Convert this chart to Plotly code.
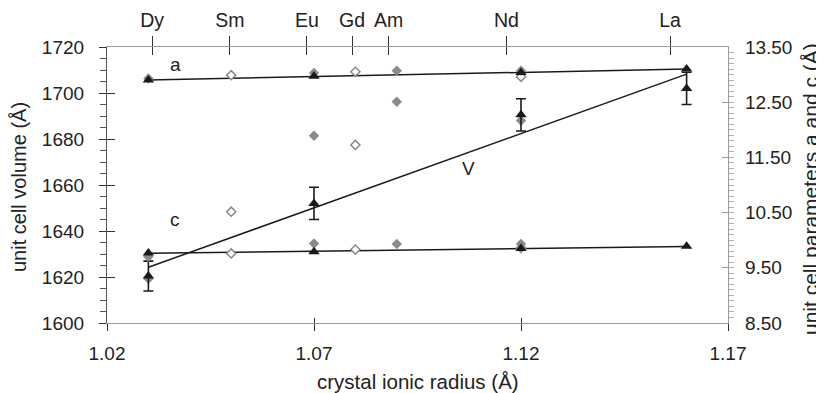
import numpy as np
import plotly.graph_objects as go

# ---------------- data ----------------
elements = ["Dy", "Sm", "Eu", "Gd", "Am", "Nd", "La"]
element_label_pos = [1.0309, 1.0497, 1.0683, 1.0792, 1.0880, 1.1165, 1.1560]

# this work (black triangles)
tri_radius = [1.03, 1.07, 1.12, 1.16]
tri_a = [12.90, 12.97, 13.04, 13.10]
tri_c = [9.77, 9.79, 9.85, 9.89]
tri_V = [1620.4, 1652.0, 1690.5, 1702.0]
tri_V_err = [6.5, 7.0, 7.0, 7.0]

# literature (grey filled diamonds)
fd_radius = [1.03, 1.07, 1.09, 1.12]
fd_a = [12.93, 13.03, 13.07, 13.07]
fd_c = [9.70, 9.94, 9.93, 9.93]
fd_V = [1619.2, 1681.4, 1696.2, 1688.0]

# literature (open diamonds)
od_radius = [1.05, 1.08, 1.12]
od_a = [12.99, 13.05, 12.96]
od_c = [9.76, 9.83, 9.86]
od_V = [1648.4, 1677.4, None]

x_ticks = [1.02, 1.07, 1.12, 1.17]
x_ticktext = ["1.02", "1.07", "1.12", "1.17"]

FONT = "Liberation Sans, Arial, sans-serif"
BLACK = "#1a1a1a"
GREY = "#8a8a8a"
AXGREY = "#9a9a9a"
TXT = "#222"

# page has an 8 px body margin; figure sized to fit the window exactly
W, H = 816, 385
OFF = 8
L, R, T, B = 107 - OFF, 96, 47 - OFF, H - (323 - OFF)
PW = W - L - R
PH = H - T - B

fig = go.Figure()

# linear fits through this work's data
xr = np.array(tri_radius)
xfit = np.array([tri_radius[0], tri_radius[-1]])
for vals, ax in [(tri_a, "y2"), (tri_c, "y2"), (tri_V, "y")]:
    p = np.polyfit(xr, np.array(vals), 1)
    fig.add_trace(go.Scatter(x=xfit, y=np.polyval(p, xfit), mode="lines",
                             line=dict(color=BLACK, width=1.5), yaxis=ax,
                             showlegend=False, hoverinfo="skip"))

# open diamonds
fig.add_trace(go.Scatter(x=od_radius, y=od_V, mode="markers", yaxis="y",
                         marker=dict(symbol="diamond", size=7, color="white",
                                     line=dict(color=GREY, width=1.5)), showlegend=False))
fig.add_trace(go.Scatter(x=od_radius + od_radius, y=od_a + od_c, mode="markers", yaxis="y2",
                         marker=dict(symbol="diamond", size=7, color="white",
                                     line=dict(color=GREY, width=1.5)), showlegend=False))
# filled diamonds
fig.add_trace(go.Scatter(x=fd_radius, y=fd_V, mode="markers", yaxis="y",
                         marker=dict(symbol="diamond", size=8, color=GREY,
                                     line=dict(width=0)), showlegend=False))
fig.add_trace(go.Scatter(x=fd_radius + fd_radius, y=fd_a + fd_c, mode="markers", yaxis="y2",
                         marker=dict(symbol="diamond", size=8, color=GREY,
                                     line=dict(width=0)), showlegend=False))
# triangles
fig.add_trace(go.Scatter(x=tri_radius, y=tri_V, mode="markers", yaxis="y",
                         error_y=dict(type="data", array=tri_V_err, color=BLACK,
                                      thickness=1.6, width=5),
                         marker=dict(symbol="triangle-up", size=10, color=BLACK),
                         showlegend=False))
fig.add_trace(go.Scatter(x=tri_radius + tri_radius, y=tri_a + tri_c, mode="markers", yaxis="y2",
                         marker=dict(symbol="triangle-up", size=10, color=BLACK),
                         showlegend=False))

# dummy traces to realise overlay axes
fig.add_trace(go.Scatter(x=[None], y=[None], xaxis="x2", yaxis="y", showlegend=False))
fig.add_trace(go.Scatter(x=[None], y=[None], xaxis="x3", yaxis="y", showlegend=False))
fig.add_trace(go.Scatter(x=[None], y=[None], xaxis="x4", yaxis="y", showlegend=False))
fig.add_trace(go.Scatter(x=[None], y=[None], xaxis="x", yaxis="y3", showlegend=False))

tickfont = dict(family=FONT, size=19, color=TXT)
topfont = dict(family=FONT, size=19.5, color=TXT)

fig.update_layout(
    width=W, height=H,
    margin=dict(l=L, r=R, t=T, b=B, pad=0),
    paper_bgcolor="white", plot_bgcolor="white",
    font=dict(family=FONT, size=19, color=TXT),
    showlegend=False,
    xaxis=dict(range=[1.02, 1.17], tickvals=x_ticks, ticktext=x_ticktext,
               ticks="outside", ticklen=7, tickcolor="#333", tickwidth=1.2,
               showline=True, linecolor=AXGREY, linewidth=1.2, automargin=False,
               showgrid=False, zeroline=False, tickfont=tickfont,
               ticklabelstandoff=6),
    xaxis3=dict(range=[1.02, 1.17], tickvals=x_ticks, overlaying="x", anchor="y",
                ticks="inside", ticklen=5, tickcolor="#333", tickwidth=1.2, automargin=False,
                showticklabels=False, showgrid=False, zeroline=False, showline=False),
    xaxis2=dict(range=[1.02, 1.17], tickvals=element_label_pos, ticktext=elements,
                overlaying="x", side="top", anchor="y", automargin=False,
                ticks="outside", ticklen=10, tickcolor="#333", tickwidth=1.2,
                showline=True, linecolor=AXGREY, linewidth=1.2,
                showgrid=False, zeroline=False, tickfont=topfont,
                ticklabelstandoff=1),
    xaxis4=dict(range=[1.02, 1.17], tickvals=element_label_pos, overlaying="x",
                side="top", anchor="y", automargin=False,
                ticks="inside", ticklen=8, tickcolor="#333", tickwidth=1.2,
                showticklabels=False, showgrid=False, zeroline=False, showline=False),
    yaxis=dict(range=[1600, 1720], dtick=20, tick0=1600, automargin=False,
               ticks="outside", ticklen=7, tickcolor="#333", tickwidth=1.2,
               minor=dict(dtick=5, ticks="outside", ticklen=6, tickcolor="#555",
                          showgrid=False),
               showline=True, linecolor="#555", linewidth=1.2,
               showgrid=False, zeroline=False, tickfont=tickfont,
               ticklabelstandoff=11),
    yaxis3=dict(range=[1600, 1720], dtick=20, tick0=1600, overlaying="y", side="left",
                anchor="x", automargin=False,
                ticks="inside", ticklen=8, tickcolor="#333", tickwidth=1.2,
                showticklabels=False, showgrid=False, zeroline=False, showline=False),
    yaxis2=dict(range=[8.5, 13.5], dtick=1, tick0=8.5, tickformat=".2f",
                overlaying="y", side="right", anchor="x", automargin=False,
                ticks="inside", ticklen=6, tickcolor=AXGREY, tickwidth=1.2,
                minor=dict(dtick=0.1, ticks="outside", ticklen=5, tickcolor="#b0b0b0",
                           showgrid=False),
                showline=True, linecolor=AXGREY, linewidth=1.2,
                showgrid=False, zeroline=False, tickfont=tickfont,
                ticklabelstandoff=12),
)

# text labels
lab = dict(family=FONT, size=19, color=TXT)
fig.add_annotation(text="a", x=1.0365, y=13.19, xref="x", yref="y2", showarrow=False, font=lab)
fig.add_annotation(text="c", x=1.0365, y=1645, xref="x", yref="y", showarrow=False, font=lab)
fig.add_annotation(text="V", x=1.1072, y=1667, xref="x", yref="y", showarrow=False, font=lab)

# axis titles (positions in page pixels converted to paper coordinates)
def px_x(px):
    return (px - OFF - L) / PW

def px_y(py):
    return 1 - (py - OFF - T) / PH

fig.add_annotation(text="crystal ionic radius (Å)", x=px_x(418), y=px_y(381),
                   xref="paper", yref="paper", showarrow=False,
                   xanchor="center", yanchor="middle",
                   font=dict(family=FONT, size=20.5, color=TXT))
fig.add_annotation(text="unit cell volume (Å)", x=px_x(19), y=px_y(187),
                   xref="paper", yref="paper", textangle=-90, showarrow=False,
                   xanchor="center", yanchor="middle",
                   font=dict(family=FONT, size=20, color=TXT))
fig.add_annotation(text="unit cell parameters a and c (Å)", x=px_x(810), y=px_y(189),
                   xref="paper", yref="paper", textangle=-90, showarrow=False,
                   xanchor="center", yanchor="middle",
                   font=dict(family=FONT, size=21, color=TXT))

fig.write_html("out.html")
